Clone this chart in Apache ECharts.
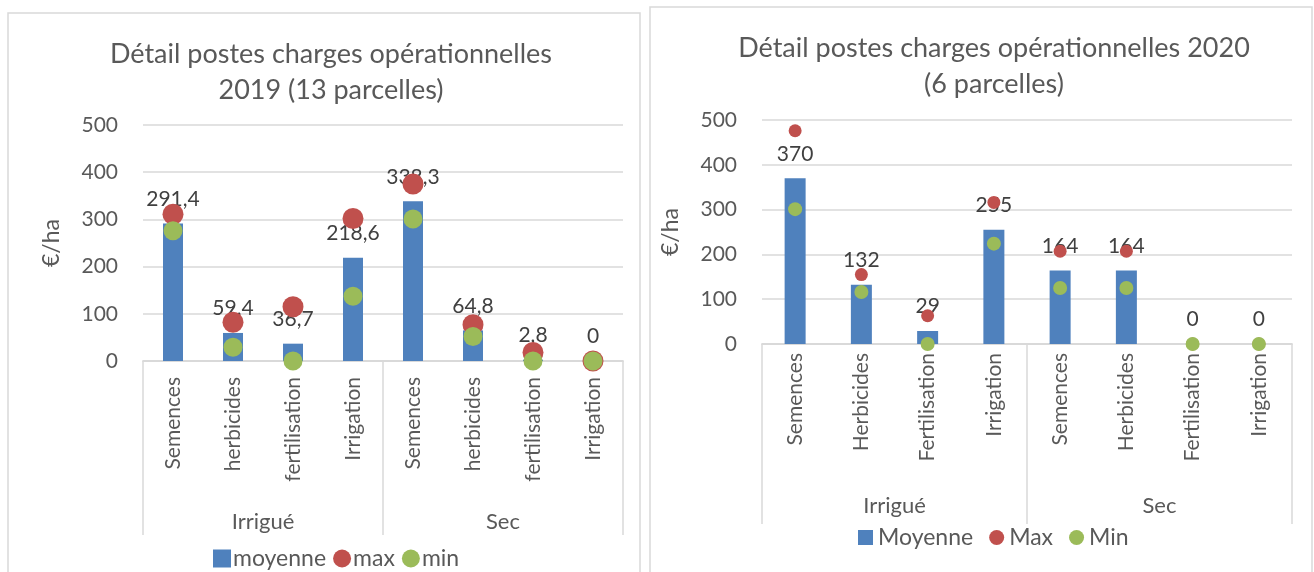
<!DOCTYPE html>
<html>
<head>
<meta charset="utf-8">
<script src="https://cdn.jsdelivr.net/npm/echarts@6/dist/echarts.min.js"></script>
<style>
  html, body { margin: 0; padding: 0; background: #ffffff; }
  #chart { width: 1314px; height: 572px; }
</style>
</head>
<body>
<div id="chart"></div>
<script>
// Categories (two-level axis: cost item within irrigation mode)
const groups = ['Irrigué', 'Sec'];
const items2019 = ['Semences', 'herbicides', 'fertilisation', 'Irrigation', 'Semences', 'herbicides', 'fertilisation', 'Irrigation'];
const items2020 = ['Semences', 'Herbicides', 'Fertilisation', 'Irrigation', 'Semences', 'Herbicides', 'Fertilisation', 'Irrigation'];

// 2019 (13 parcelles), €/ha
const moyenne2019 = [291.4, 59.4, 36.7, 218.6, 338.3, 64.8, 2.8, 0];
const max2019 = [311, 82, 115, 302, 375, 77, 18, 0];
const min2019 = [276, 29, 0, 137, 301, 52, 0, 0];

// 2020 (6 parcelles), €/ha
const moyenne2020 = [370, 132, 29, 255, 164, 164, 0, 0];
const max2020 = [476, 155, 63, 316, 207, 207, 0, 0];
const min2020 = [301, 116, 0, 224, 125, 125, 0, 0];

const yTicks = [0, 100, 200, 300, 400, 500];

const BLUE = '#4F81BD', RED = '#C0504D', GREEN = '#9BBB59';
const TXT = '#595959', GRID = '#D9D9D9';
const FONT = 'Lato';

const frComma = v => String(v).replace('.', ',');

function yAxisFor(gridIndex) {
  return {
    gridIndex, type: 'value',
    min: yTicks[0], max: yTicks[yTicks.length - 1], interval: yTicks[1] - yTicks[0],
    name: '€/ha', nameLocation: 'middle', nameRotate: 90, nameGap: 80,
    nameTextStyle: { color: TXT, fontSize: 23, fontFamily: FONT },
    axisLine: { show: false }, axisTick: { show: false },
    axisLabel: { color: TXT, fontSize: 21, fontFamily: FONT, margin: 25 },
    splitLine: { lineStyle: { color: GRID, width: 1.5 } }
  };
}

function itemAxis(gridIndex, data, margin) {
  return {
    gridIndex, type: 'category', data, position: 'bottom',
    axisLine: { lineStyle: { color: GRID, width: 1.5 } },
    axisTick: { show: false },
    axisLabel: { rotate: 90, interval: 0, color: TXT, fontSize: 21, fontFamily: FONT, margin }
  };
}

function groupAxis(gridIndex, tickLen, margin) {
  return {
    gridIndex, type: 'category', data: groups, position: 'bottom',
    axisLine: { lineStyle: { color: GRID, width: 1.5 } },
    axisTick: { show: true, length: tickLen, lineStyle: { color: GRID, width: 1.5 } },
    axisLabel: { interval: 0, color: TXT, fontSize: 22, fontFamily: FONT, margin }
  };
}

function seriesFor(idx, moy, mx, mn, names, barW, redSize, greenSize) {
  return [
    {
      name: names[0], type: 'bar', xAxisIndex: idx * 2, yAxisIndex: idx,
      data: moy, barWidth: barW, itemStyle: { color: BLUE },
      label: { show: true, position: 'top', distance: 14, formatter: p => frComma(p.value),
               color: '#404040', fontSize: 21, fontFamily: FONT }
    },
    {
      name: names[1], type: 'scatter', xAxisIndex: idx * 2, yAxisIndex: idx,
      data: mx, symbolSize: redSize, itemStyle: { color: RED, opacity: 1 }, z: 3
    },
    {
      name: names[2], type: 'scatter', xAxisIndex: idx * 2, yAxisIndex: idx,
      data: mn, symbolSize: greenSize, itemStyle: { color: GREEN, opacity: 1 }, z: 4
    }
  ];
}

const chart = echarts.init(document.getElementById('chart'), null, { renderer: 'canvas' });

chart.setOption({
  animation: false,
  textStyle: { fontFamily: FONT },
  graphic: [
    { type: 'rect', shape: { x: 8, y: 13, width: 632, height: 620 },
      style: { fill: '#fff', stroke: GRID, lineWidth: 1.5 }, z: -10 },
    { type: 'rect', shape: { x: 650, y: 7, width: 662, height: 620 },
      style: { fill: '#fff', stroke: GRID, lineWidth: 1.5 }, z: -10 }
  ],
  title: [
    { text: 'Détail postes charges opérationnelles\n2019 (13 parcelles)', left: 326, top: 31, textAlign: 'center',
      textStyle: { color: TXT, fontSize: 27, fontWeight: 'normal', fontFamily: FONT, lineHeight: 36 } },
    { text: 'Détail postes charges opérationnelles 2020\n(6 parcelles)', left: 989, top: 25, textAlign: 'center',
      textStyle: { color: TXT, fontSize: 27, fontWeight: 'normal', fontFamily: FONT, lineHeight: 36 } }
  ],
  legend: [
    { data: [{ name: 'moyenne', icon: 'rect' }, { name: 'max', icon: 'circle' }, { name: 'min', icon: 'circle' }],
      left: 208, top: 542, itemWidth: 18, itemHeight: 18, itemGap: 7,
      textStyle: { color: TXT, fontSize: 23, fontFamily: FONT, padding: [0, 0, 0, -3] } },
    { data: [{ name: 'Moyenne', icon: 'rect' }, { name: 'Max', icon: 'circle' }, { name: 'Min', icon: 'circle' }],
      left: 853, top: 521, itemWidth: 15, itemHeight: 15, itemGap: 16,
      textStyle: { color: TXT, fontSize: 23, fontFamily: FONT } }
  ],
  grid: [
    { left: 143, top: 125, width: 480, height: 236 },
    { left: 762, top: 120, width: 530, height: 224 }
  ],
  xAxis: [
    itemAxis(0, items2019, 16), groupAxis(0, 174, 150),
    itemAxis(1, items2020, 9), groupAxis(1, 180, 151)
  ],
  yAxis: [yAxisFor(0), yAxisFor(1)],
  series: [
    ...seriesFor(0, moyenne2019, max2019, min2019, ['moyenne', 'max', 'min'], 20, 21, 19),
    ...seriesFor(1, moyenne2020, max2020, min2020, ['Moyenne', 'Max', 'Min'], 21, 13, 14)
  ]
});
</script>
</body>
</html>
